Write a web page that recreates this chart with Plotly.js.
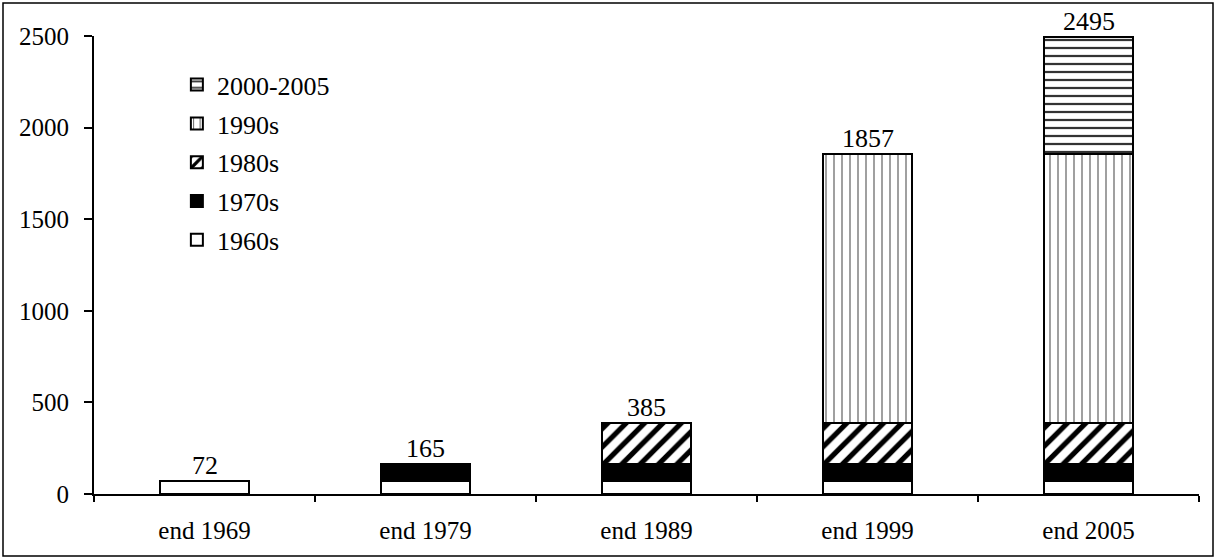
<!DOCTYPE html>
<html>
<head>
<meta charset="utf-8">
<script src="https://cdn.plot.ly/plotly-3.0.1.min.js"></script>
<style>
html,body{margin:0;padding:0;background:#fff;}
#chart{width:1215px;height:558px;}
</style>
</head>
<body>
<div id="chart"></div>
<script>
const categories = ["end 1969", "end 1979", "end 1989", "end 1999", "end 2005"];
const s1960s = [72, 72, 72, 72, 72];
const s1970s = [null, 93, 93, 93, 93];
const s1980s = [null, null, 220, 220, 220];
const s1990s = [null, null, null, 1472, 1472];
const s2000s = [null, null, null, null, 638];
const totals = [72, 165, 385, 1857, 2495];
const yTicks = [0, 500, 1000, 1500, 2000, 2500];

const FONT = "Liberation Serif, Times New Roman, serif";
const line = {color: "#000", width: 2};

function bar(name, y, color, pattern, group, rank) {
  const m = {color: color, line: line};
  if (pattern) m.pattern = pattern;
  return {type: "bar", name: name, x: categories, y: y, width: 0.4,
          marker: m, legendgroup: group, legendrank: rank, hoverinfo: "skip"};
}

const traces = [
  bar("1960s", s1960s, "#fff", null, "g1", 5),
  bar("1970s", s1970s, "#000", null, "g2", 4),
  bar("1980s", s1980s, "#fff", {shape: "/", bgcolor: "#fff", fgcolor: "#000", size: 13, solidity: 0.4}, "g3", 3),
  bar("1990s", s1990s, "#fff", {shape: "|", bgcolor: "#fff", fgcolor: "#555", size: 8, solidity: 0.14}, "g4", 2),
  bar("2000-2005", s2000s, "#fff", {shape: "-", bgcolor: "#fff", fgcolor: "#333", size: 8, solidity: 0.28}, "g5", 1)
];

const annotations = categories.map((c, i) => ({
  x: c, y: totals[i], xref: "x", yref: "y", text: String(totals[i]),
  showarrow: false, yanchor: "bottom", yshift: -1,
  font: {family: FONT, size: 26, color: "#000"}
}));

const L = 94, R = 16, T = 36, B = 64, W = 1215, H = 558;
const pw = W - L - R, ph = H - T - B;

const layout = {
  width: W, height: H,
  margin: {l: L, r: R, t: T, b: B, pad: 0},
  paper_bgcolor: "#fff", plot_bgcolor: "#fff",
  barmode: "stack",
  font: {family: FONT, size: 25, color: "#000"},
  showlegend: true,
  legend: {
    x: 0.075, y: 0.945, xanchor: "left", yanchor: "top",
    traceorder: "grouped", tracegroupgap: 2,
    bgcolor: "rgba(0,0,0,0)",
    font: {family: FONT, size: 26, color: "#000"}
  },
  xaxis: {
    type: "category", range: [-0.5, 4.5],
    showline: true, linecolor: "#000", linewidth: 2,
    ticks: "outside", tickson: "boundaries", ticklen: 6, tickwidth: 2, tickcolor: "#000",
    showgrid: false, zeroline: false, fixedrange: true,
    tickfont: {family: FONT, size: 25, color: "#000"},
    ticklabelstandoff: 13
  },
  yaxis: {
    range: [0, 2500], tickvals: yTicks, ticktext: yTicks.map(String),
    showline: true, linecolor: "#000", linewidth: 2,
    ticks: "outside", ticklen: 8, tickwidth: 2, tickcolor: "#000",
    showgrid: false, zeroline: false, fixedrange: true,
    tickfont: {family: FONT, size: 25, color: "#000"},
    ticklabelstandoff: 10
  },
  annotations: annotations,
  shapes: [{
    type: "rect", xref: "paper", yref: "paper",
    x0: (3 - L) / pw, x1: (1213 - L) / pw,
    y0: (H - B - 556) / ph, y1: (H - B - 3) / ph,
    line: {color: "#000", width: 1.5}, fillcolor: "rgba(0,0,0,0)", layer: "below"
  }]
};

Plotly.newPlot("chart", traces, layout, {displayModeBar: false, staticPlot: true});
</script>
</body>
</html>
